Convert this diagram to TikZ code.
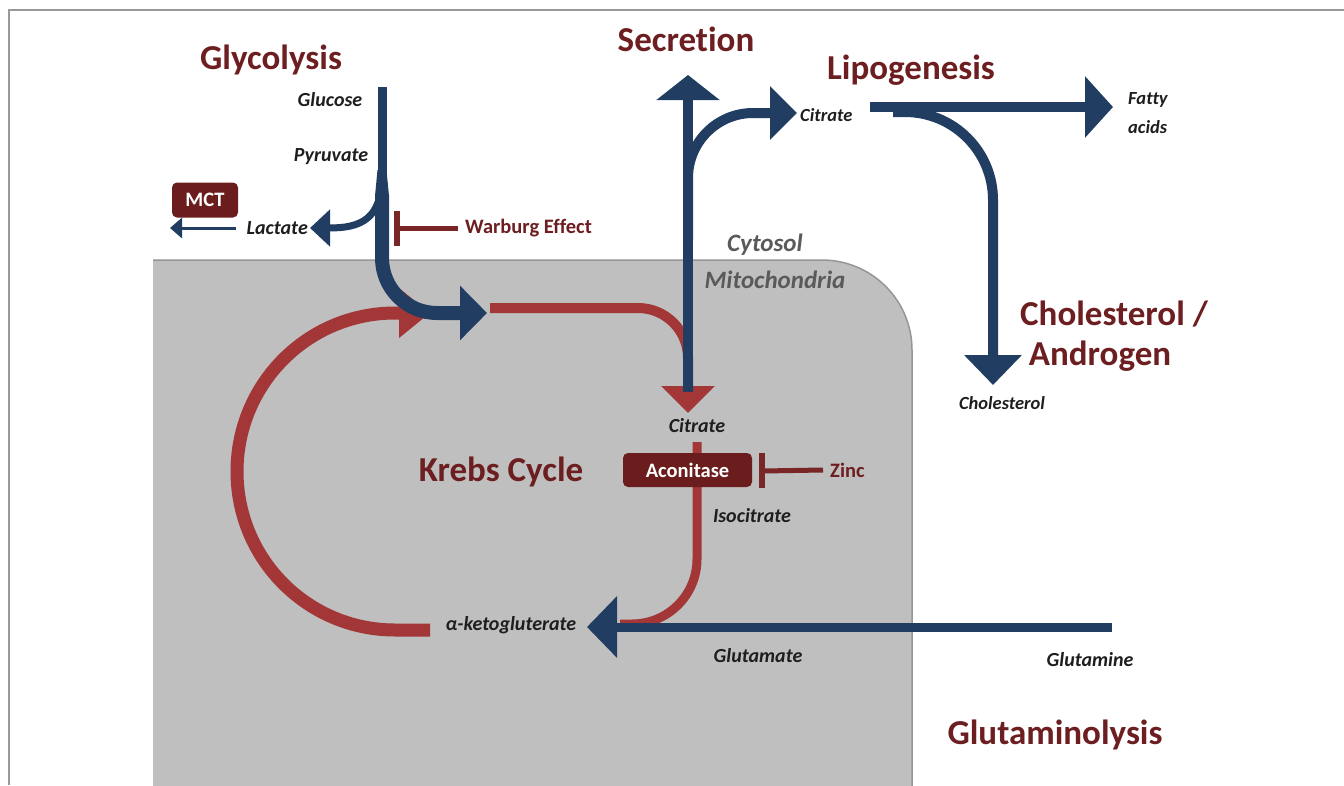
\documentclass[tikz,border=0pt]{standalone}
\usepackage{fontspec}
\setmainfont{Carlito}[RawFeature={-liga;-dlig;-clig}]
\usetikzlibrary{arrows.meta}
\definecolor{navy}{RGB}{33,61,98}
\definecolor{brick}{RGB}{163,54,54}
\definecolor{maroon}{RGB}{108,30,32}
\definecolor{boxred}{RGB}{107,29,29}
\definecolor{inhib}{RGB}{120,38,38}
\definecolor{mito}{RGB}{191,191,191}
\definecolor{mitoedge}{RGB}{150,150,150}
\definecolor{ink}{RGB}{30,30,30}
\definecolor{cellgray}{RGB}{90,90,90}
\tikzset{
  title/.style={text=maroon, font=\fontsize{35}{40}\selectfont\bfseries, inner sep=0pt},
  met/.style={text=ink, font=\fontsize{20}{23}\selectfont\bfseries\itshape, inner sep=0pt},
  smallmet/.style={text=ink, font=\fontsize{18.5}{21}\selectfont\bfseries\itshape, inner sep=0pt},
  lbl/.style={text=maroon, font=\fontsize{20.5}{24}\selectfont\bfseries, inner sep=0pt},
  comp/.style={text=cellgray, font=\fontsize{25}{28}\selectfont\bfseries\itshape, inner sep=0pt},
  enzyme/.style={fill=boxred, text=white, rounded corners=5pt, font=\fontsize{20.5}{24}\selectfont\bfseries, inner sep=0pt},
  bluepath/.style={draw=navy, line width=10pt},
  redpath/.style={draw=brick, line width=10pt},
  inhibline/.style={draw=inhib, line width=5pt},
  inhibbar/.style={draw=inhib, line width=6pt},
  framel/.style={draw=gray!80, line width=1.5pt}
}
\begin{document}
\begin{tikzpicture}[x=1pt,y=-1pt]
\useasboundingbox (0,0) rectangle (1344,785);
\fill[white] (0,0) rectangle (1344,785);
% outer frame
\draw[framel] (9,785) -- (9,10) -- (1344,10);
% mitochondria
\fill[mito] (153,786) -- (153,260) -- (822,260) .. controls (871.7,260) and (912,300.3) .. (912,350) -- (912,786) -- cycle;
\draw[mitoedge, line width=1.5pt] (153,260) -- (822,260) .. controls (871.7,260) and (912,300.3) .. (912,350) -- (912,786);

% coordinates
\coordinate (gluTop) at (382,87);
\coordinate (gluMid) at (382,200);
\coordinate (gluCurve) at (382,195);
\coordinate (pyrIn) at (487,313);
\coordinate (lacFrom) at (382,175);
\coordinate (lacTip) at (310,228);
\coordinate (mctFrom) at (236,228);
\coordinate (mctTip) at (170,228);
\coordinate (warbT) at (397,228);
\coordinate (kcStart) at (430,630);
\coordinate (kcTip) at (430,313);
\coordinate (accStart) at (490,308);
\coordinate (citTip) at (688,413);
\coordinate (secBase) at (688,392);
\coordinate (secTip) at (688,75);
\coordinate (brFrom) at (688,240);
\coordinate (citTopTip) at (797,113);
\coordinate (lipFrom) at (870,107);
\coordinate (faTip) at (1113,107);
\coordinate (cholFrom) at (893,112);
\coordinate (cholTip) at (993,385);
\coordinate (acoTop) at (697,442);
\coordinate (akgJoin) at (620,624);
\coordinate (glnFrom) at (1112,627);
\coordinate (akgTip) at (587,627);
\coordinate (zincT) at (762,471);

% Krebs cycle C arrow
\draw[redpath, line width=13pt, -{Triangle[length=31pt,width=48pt]}]
  (kcStart) -- (395,630) .. controls (307.5,630) and (237,559) .. (237,471.5)
  .. controls (237,384) and (307.5,313) .. (395,313) -- (kcTip);
% acetyl-CoA to citrate
\draw[redpath, rounded corners=50pt, -{Triangle[length=27pt,width=52pt]}] (accStart) -| (citTip);
% citrate -> isocitrate -> akg
\draw[redpath, line width=9pt, rounded corners=65pt] (acoTop) |- (akgJoin);

% glycolysis
\draw[bluepath, line width=9pt] (gluTop) -- (gluMid);
\fill[navy] (377.5,170) -- (386.5,170) -- (389,196) -- (375,196) -- cycle;
\draw[bluepath, line width=14pt, rounded corners=55pt, -{Triangle[length=27pt,width=53pt]}] (gluCurve) |- (pyrIn);
\draw[bluepath, line width=7pt, -{Triangle[length=20pt,width=36pt]}] (lacFrom) .. controls (382,220) and (360,228) .. (lacTip);
\draw[bluepath, line width=3pt, -{Triangle[length=12pt,width=20pt]}] (mctFrom) -- (mctTip);

% secretion and lipogenesis
\draw[bluepath, -{Triangle[length=25pt,width=62pt]}] (secBase) -- (secTip);
\draw[bluepath, rounded corners=65pt, -{Triangle[length=27pt,width=52pt]}] (brFrom) |- (citTopTip);
\draw[bluepath, -{Triangle[length=28pt,width=60pt]}] (lipFrom) -- (faTip);
\draw[bluepath, rounded corners=88pt, -{Triangle[length=30pt,width=56pt]}] (cholFrom) -| (cholTip);

% glutaminolysis
\draw[bluepath, line width=9pt, -{Triangle[length=30pt,width=60pt]}] (glnFrom) -- (akgTip);

% enzymes
\node[enzyme, minimum width=66pt, minimum height=35pt] (mct) at (205,200) {MCT};
\node[enzyme, minimum width=129pt, minimum height=34pt] (aco) at (687.5,470) {Aconitase};

% inhibitors
\node[lbl, anchor=west] (warb) at (465,228) {Warburg Effect};
\draw[inhibline] (warb.west) ++(-7,0) -- (warbT);
\draw[inhibbar] (397,211) -- (397,246);
\node[lbl, anchor=west] (zinc) at (830,470) {Zinc};
\draw[inhibline] (zinc.west) ++(-7,0) -- (zincT);
\draw[inhibbar] (762,453) -- (762,488);

% titles
\node[title] (glyc) at (271,60) {Glycolysis};
\node[title] (secr) at (686,39) {Secretion};
\node[title] (lipo) at (911,70) {Lipogenesis};
\node[title] (chol1) at (1114,314) {Cholesterol /};
\node[title] (chol2) at (1100,356) {Androgen};
\node[title] (krebs) at (501,472) {Krebs Cycle};
\node[title] (glnl) at (1055,735) {Glutaminolysis};

% compartments
\node[comp] (cyto) at (765,245) {Cytosol};
\node[comp] (mitoL) at (775,280) {Mitochondria};

% metabolites
\node[met] (glc) at (330,100) {Glucose};
\node[met] (pyr) at (331,157) {Pyruvate};
\node[met, anchor=east] (lac) at (308,228) {Lactate};
\node[smallmet, anchor=west] (cit1) at (800,115) {Citrate};
\node[smallmet, anchor=west] (fa1) at (1128,100) {Fatty};
\node[smallmet, anchor=west] (fa2) at (1128,127) {acids};
\node[smallmet] (cholm) at (1002,403) {Cholesterol};
\node[met] (cit2) at (697,426) {Citrate};
\node[met] (iso) at (752,516) {Isocitrate};
\node[met] (akg) at (511,625) {α-ketogluterate};
\node[met] (glu) at (758,656) {Glutamate};
\node[met] (gln) at (1090,660) {Glutamine};
\end{tikzpicture}
\end{document}
